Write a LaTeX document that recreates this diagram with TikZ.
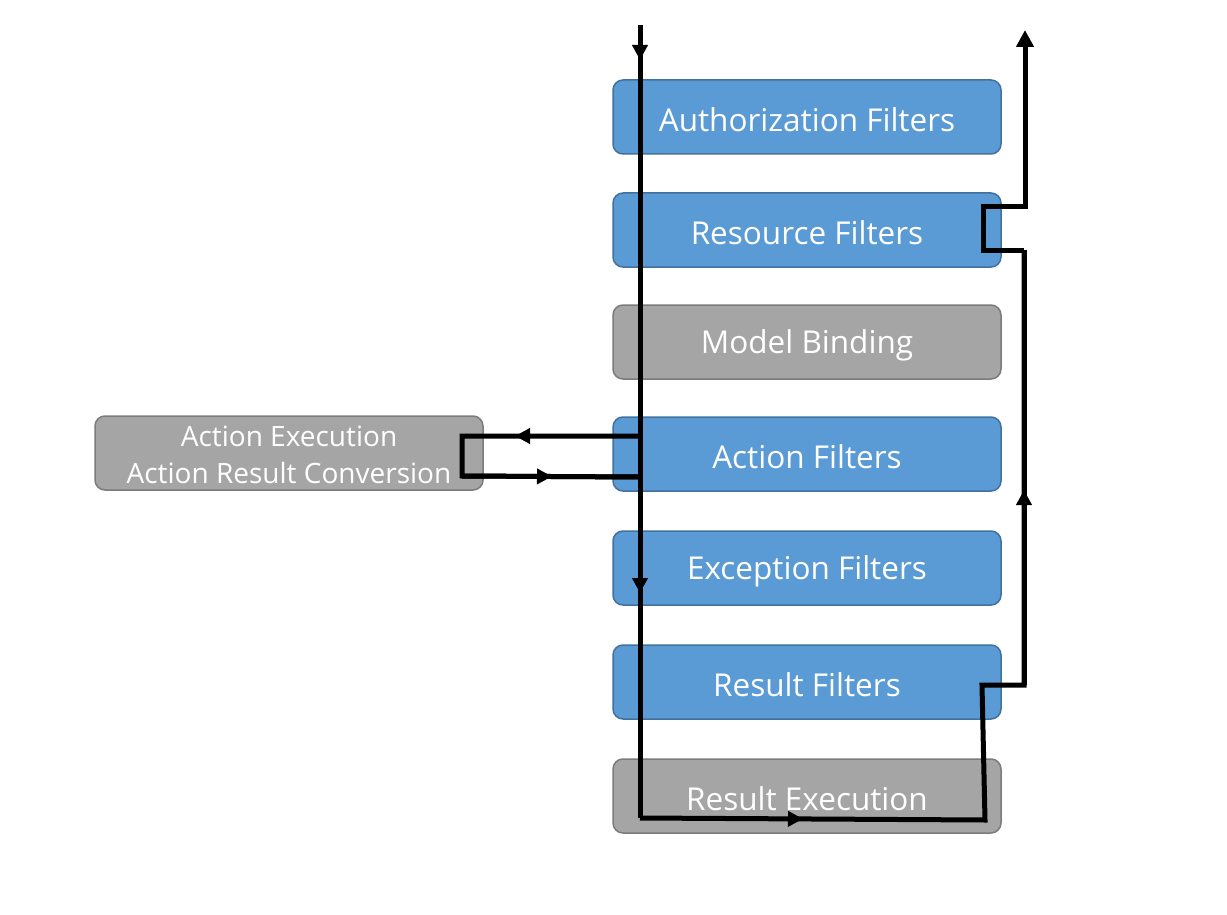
\documentclass[tikz,border=0pt]{standalone}
\usepackage{fontspec}
\setmainfont{Open Sans}
\usetikzlibrary{arrows.meta,decorations.markings}
\definecolor{bfill}{HTML}{5B9BD5}
\definecolor{bdraw}{HTML}{41719C}
\definecolor{gfill}{HTML}{A5A5A5}
\definecolor{gdraw}{HTML}{7B7B7B}
\newcommand{\lowtext}[2][-3pt]{\raisebox{#1}[\height][\depth]{#2}}
\tikzset{
  box/.style={rectangle, rounded corners=10pt, line width=1.5pt, minimum width=388pt, minimum height=74pt, inner sep=0pt, text=white, font=\fontsize{31.5}{37}\selectfont, align=center},
  bluebox/.style={box, fill=bfill, draw=bdraw},
  graybox/.style={box, fill=gfill, draw=gdraw},
  flow/.style={line width=5pt, black},
  midarrow/.style={postaction={decorate}, decoration={markings, mark=at position #1 with {\arrow{Triangle[length=15pt,width=15pt]}}}}
}
\begin{document}
\begin{tikzpicture}[x=1pt,y=-1pt]
\useasboundingbox (0,0) rectangle (1227,915);
\node[bluebox] (auth) at (807,117) {\lowtext{Authorization Filters}};
\node[bluebox] (res) at (807,230) {\lowtext{Resource Filters}};
\node[graybox] (mb) at (807,342) {\lowtext{Model Binding}};
\node[bluebox] (act) at (807,454) {\lowtext{Action Filters}};
\node[bluebox] (exc) at (807,568) {\lowtext{Exception Filters}};
\node[bluebox] (resf) at (807,682) {\lowtext{Result Filters}};
\node[graybox] (rex) at (807,796) {\lowtext{Result Execution}};
\node[graybox, font=\fontsize{28}{37}\selectfont] (ae) at (289,453) {\lowtext[-2pt]{Action Execution}\\\lowtext[-2pt]{Action Result Conversion}};

\coordinate (start) at (640,25);
\coordinate (bl) at (640,818);
\coordinate (br) at (985,820);
\coordinate (r1) at (982,685);
\coordinate (r2) at (1024,685);
\coordinate (r3) at (1024,250);
\coordinate (r4) at (983,250);
\coordinate (r5) at (983,207);
\coordinate (r6) at (1025,207);
\coordinate (end) at (1025,30);
\coordinate (l1) at (640,436);
\coordinate (l2) at (462,436);
\coordinate (l3) at (462,476);
\coordinate (l4) at (640,477);

\draw[flow, midarrow=35pt] (start) -- (bl);
\draw[flow, midarrow=568pt] (start) -- (bl);
\draw[flow, midarrow=163pt, line join=miter] (bl) -- (br) -- (r1) -- (r2) -- (r3);
\draw[flow, midarrow=195pt] (r2) -- (r3);
\draw[flow, line join=miter, -{Triangle[length=17pt,width=17pt]}] (r3) -- (r4) -- (r5) -- (r6) -- (end);
\draw[flow, line join=miter, midarrow=125pt] (l1) -- (l2) -- (l3) -- (l4);
\draw[flow, midarrow=90pt] (l3) -- (l4);
\end{tikzpicture}
\end{document}
